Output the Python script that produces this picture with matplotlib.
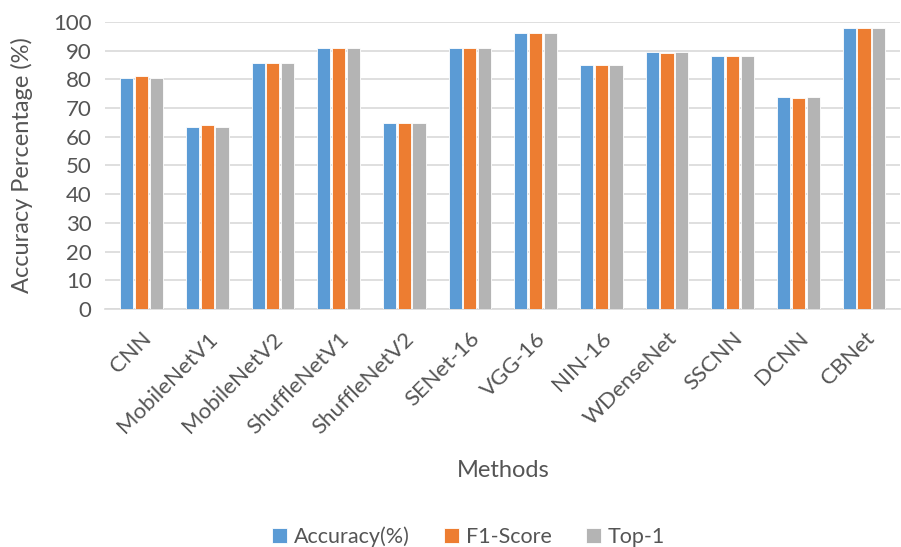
import matplotlib.pyplot as plt
import numpy as np

plt.rcParams['font.family'] = ['Lato', 'DejaVu Sans']

methods = ['CNN', 'MobileNetV1', 'MobileNetV2', 'ShuffleNetV1', 'ShuffleNetV2',
           'SENet-16', 'VGG-16', 'NIN-16', 'WDenseNet', 'SSCNN', 'DCNN', 'CBNet']
accuracy = [80.6, 63.5, 85.7, 91.0, 64.9, 91.0, 96.3, 85.1, 89.5, 88.0, 73.9, 97.7]
f1_score = [81.3, 64.2, 85.7, 90.9, 64.9, 91.0, 96.3, 85.1, 89.2, 88.0, 73.6, 97.8]
top1 = [80.6, 63.5, 85.7, 91.0, 64.9, 91.0, 96.3, 85.1, 89.5, 88.0, 73.9, 97.7]

series = [('Accuracy(%)', accuracy, '#5B9BD5'),
          ('F1-Score', f1_score, '#ED7D31'),
          ('Top-1', top1, '#B4B4B4')]

txt = '#555555'
fig = plt.figure(figsize=(9.01, 5.47), dpi=100)
ax = fig.add_axes([0.117, 0.435, 0.882, 0.525])

x = np.arange(len(methods))
w = 0.2
for i, (name, vals, col) in enumerate(series):
    ax.bar(x + (i - 1) * 0.225, vals, w, color=col, label=name,
           edgecolor='white', linewidth=0.6, zorder=3)

ax.set_ylim(0, 100)
ax.set_xlim(-0.55, len(methods) - 0.45)
ax.set_yticks(range(0, 101, 10))
ax.yaxis.grid(True, color='#D9D9D9', linewidth=1.2, zorder=0)
for s in ['top', 'right', 'left']:
    ax.spines[s].set_visible(False)
ax.spines['bottom'].set_color('#D9D9D9')
ax.spines['bottom'].set_linewidth(1.2)
ax.tick_params(axis='y', length=0, labelsize=16, colors=txt, pad=10)
ax.tick_params(axis='x', length=0, labelsize=16, colors=txt, pad=14)
ax.set_xticks(x)
ax.set_xticklabels(methods, rotation=45, ha='right', rotation_mode='anchor')

ax.set_ylabel('Accuracy Percentage (%)', fontsize=17, color=txt, labelpad=14)
ax.set_xlabel('Methods', fontsize=17, color=txt, labelpad=16)

fig.legend(loc='lower center', bbox_to_anchor=(0.52, -0.035), ncol=3, frameon=False,
           fontsize=15.5, labelcolor=txt, handlelength=0.7, handleheight=0.7,
           handletextpad=0.3, columnspacing=1.6)

fig.savefig('out.png', dpi=100)
